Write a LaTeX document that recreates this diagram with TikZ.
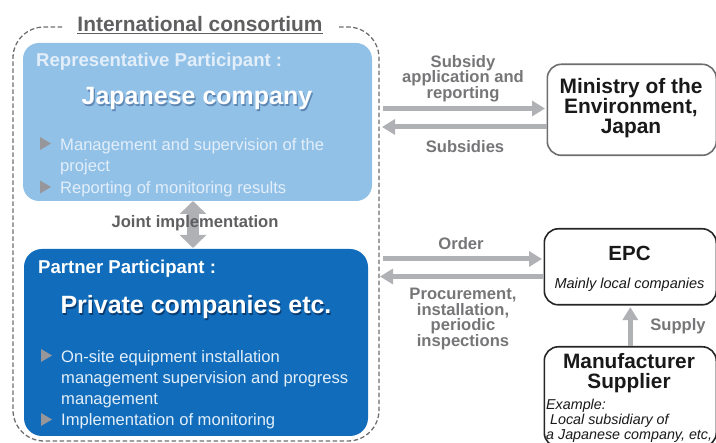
\documentclass[tikz,border=0pt]{standalone}
\usepackage{fontspec}
\setmainfont{Liberation Sans}
\usetikzlibrary{arrows.meta,positioning}
\definecolor{lightblue}{RGB}{146,193,232}
\definecolor{darkblue}{RGB}{17,109,187}
\definecolor{greytxt}{RGB}{95,95,97}
\definecolor{midtxt}{RGB}{118,118,120}
\definecolor{arrowgrey}{RGB}{176,177,180}
\definecolor{bullgrey}{RGB}{150,150,155}
\definecolor{paletxt}{RGB}{226,238,249}
\definecolor{edgegrey}{RGB}{110,110,112}
\definecolor{shadelight}{RGB}{95,135,180}
\definecolor{shadedark}{RGB}{8,60,115}
\newcommand{\withshade}[2]{\rlap{\kern1.2pt\raisebox{-1.2pt}{\textcolor{#1}{#2}}}#2}
\tikzset{
  blockarrow/.style={arrowgrey,line width=5pt,-{Triangle[length=13pt,width=15pt]},shorten >=1.5pt},
  bigarrow/.style={arrowgrey,line width=12pt,{Triangle[length=13pt,width=26pt]}-{Triangle[length=13pt,width=26pt]}},
  actor/.style={draw=#1,line width=1.6pt,rounded corners=14pt,fill=white,inner sep=0pt},
  lab/.style={midtxt,align=center,inner sep=0pt,font=\fontsize{16.6}{15.6}\selectfont\bfseries},
  bt/.style={paletxt,anchor=base west,inner sep=0pt,align=left,font=\fontsize{16.6}{21}\selectfont},
  head/.style={anchor=base,inner sep=0pt,white,font=\fontsize{25}{26}\selectfont\bfseries},
  sub/.style={anchor=base west,inner sep=0pt,white,font=\fontsize{18.6}{19}\selectfont\bfseries},
  intext/.style={anchor=base,inner sep=0pt,align=center,black!90,font=\fontsize{#1}{20}\selectfont\bfseries},
}
\begin{document}
\begin{tikzpicture}[x=1pt,y=-1pt]
\useasboundingbox (0,0) rectangle (716,443);
% consortium frame
\coordinate (fa) at (62,27);
\coordinate (fb) at (338,27);
\draw[edgegrey,line width=1.3pt,dash pattern=on 4.5pt off 2.5pt,rounded corners=31pt]
  (fa) -- (13,27) -- (13,441) -- (379,441) -- (379,27) -- (fb);
\node[anchor=base,inner sep=0pt,greytxt,font=\fontsize{20.9}{21}\selectfont\bfseries] (title) at (200,31.5) {\underline{International consortium}};
% blue boxes
\fill[lightblue,rounded corners=16pt] (23,43) rectangle (372,201);
\fill[darkblue,rounded corners=18pt] (24,249) rectangle (368,436);
\coordinate (rep) at (193,201);
\coordinate (par) at (193,248);
\draw[bigarrow] (rep) -- (par);
\node[greytxt,inner sep=0pt,anchor=base,font=\fontsize{16.6}{17}\selectfont\bfseries] (joint) at (195,228) {Joint implementation};
% representative
\node[sub,paletxt] (r1) at (36,67) {Representative Participant :};
\node[head] (r2) at (197,105) {\withshade{shadelight}{Japanese company}};
\fill[bullgrey] (40,137) -- (51,143.5) -- (40,150) -- cycle;
\node[bt] (r3) at (60,172) {Management and supervision of the\\project};
\fill[bullgrey] (40,180.5) -- (51,187) -- (40,193.5) -- cycle;
\node[bt] (r4) at (60,193.5) {Reporting of monitoring results};
% partner
\node[sub] (p1) at (38,274) {Partner Participant :};
\node[head] (p2) at (196,314) {\withshade{shadedark}{Private companies etc.}};
\fill[bullgrey] (41,349) -- (52,355.5) -- (41,362) -- cycle;
\node[bt] (p3) at (61,405) {On-site equipment installation\\management supervision and progress\\management};
\fill[bullgrey] (41,413) -- (52,419.5) -- (41,426) -- cycle;
\node[bt] (p4) at (61,426) {Implementation of monitoring};
% actors
\node[actor=edgegrey,minimum width=169pt,minimum height=91pt,anchor=north west] (moe) at (546.5,63.5) {};
\node[intext=20.9] (moet) at (631,134) {Ministry of the\\Environment,\\Japan};
\node[actor=black!85,minimum width=172pt,minimum height=76pt,anchor=north west] (epc) at (543.5,228) {};
\node[intext=20.5] (epct) at (629.5,261) {EPC};
\node[anchor=base,inner sep=0pt,black!90,font=\fontsize{14.5}{15}\selectfont\itshape] (epcs) at (629.5,289) {Mainly local companies};
\node[actor=black!85,minimum width=172pt,minimum height=100pt,anchor=north west] (man) at (543.5,346) {};
\node[intext=20.8] (mant) at (629,389) {Manufacturer\\Supplier};
\node[anchor=base west,inner sep=0pt,align=left,black!90,font=\fontsize{14.3}{15}\selectfont\itshape] (mans) at (546,440) {Example:\\\ Local subsidiary of\\a Japanese company, etc,};
% flows
\coordinate (c1) at (383,108.5);
\coordinate (c2) at (382,127);
\coordinate (c3) at (383,259);
\coordinate (c4) at (380,276.5);
\draw[blockarrow] (c1) -- (moe.west |- c1);
\draw[blockarrow,shorten >=0pt] (moe.west |- c2) -- (c2);
\draw[blockarrow] (c3) -- (epc.west |- c3);
\draw[blockarrow,shorten >=0pt] (epc.west |- c4) -- (c4);
\draw[blockarrow] (man.north) -- (epc.south);
% flow labels
\node[lab] (l1) at (463,78.5) {Subsidy\\application and\\reporting};
\node[lab] (l2) at (465,146.5) {Subsidies};
\node[lab] (l3) at (461,243.5) {Order};
\node[lab] (l4) at (463,319) {Procurement,\\installation,\\periodic\\inspections};
\node[lab] (l5) at (678,326.5) {Supply};
\end{tikzpicture}
\end{document}
